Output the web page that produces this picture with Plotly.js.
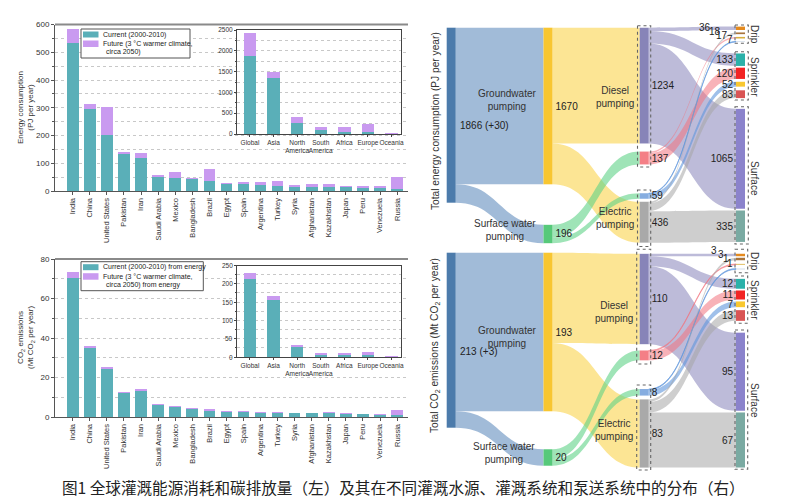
<!DOCTYPE html>
<html><head><meta charset="utf-8">
<script src="https://cdn.plot.ly/plotly-3.0.1.min.js"></script>
<style>html,body{margin:0;padding:0;background:#fff}</style>
</head><body><div id="chart" style="width:806px;height:500px"></div>
<script>
// ---------------- DATA ----------------
const countries = ['India','China','United States','Pakistan','Iran','Saudi Arabia','Mexico','Bangladesh','Brazil','Egypt','Spain','Argentina','Turkey','Syria','Afghanistan','Kazakhstan','Japan','Peru','Venezuela','Russia'];
const energyCurrent = [534,296,202,132,118,52,46,43,36,24,24,22,18,16,16,14,16,12,12,9];
const energyFutureExtra = [50,18,100,10,20,6,22,5,42,5,7,12,18,4,9,11,1,7,6,43];
const regions = ['Global','Asia','North<br>America','South<br>America','Africa','Europe','Oceania'];
const regionEnergyCurrent = [1880,1345,255,100,50,50,8];
const regionEnergyExtra = [545,140,160,80,110,190,12];
const co2Current = [70.2,34.8,24.4,12.3,13.2,6.2,5.2,4.0,2.9,2.5,2.4,2.2,2.0,2.0,1.9,2.0,1.7,1.3,1.2,0.8];
const co2FutureExtra = [3.0,1.1,0.8,0.4,0.8,0.5,0.5,0.5,1.0,0.4,0.5,0.3,0.5,0.2,0.3,0.5,0.2,0.4,0.2,2.7];
const regionCo2Current = [212,157,28,6,6,6,1];
const regionCo2Extra = [18,9,4,6,6,8,1];
const regionCo2Ticks = [0,50,100,150,200,250];
const energyLegend = ['Current (2000-2010)', 'Future (3 °C warmer climate,', 'circa 2050)'];
const co2Legend = ['Current (2000-2010) from energy', 'Future (3 °C warmer climate,', 'circa 2050) from energy'];

// Sankey: nodes and flows
const sankeyNodes = ['Total','Groundwater pumping','Surface water pumping','Diesel (groundwater)','Diesel (surface water)','Electric (surface water)','Electric (groundwater)',
  'Drip (diesel, groundwater)','Drip (electric, groundwater)','Drip (diesel, surface water)','Drip (electric, surface water)',
  'Sprinkler (diesel, groundwater)','Sprinkler (diesel, surface water)','Sprinkler (electric, surface water)','Sprinkler (electric, groundwater)',
  'Surface (diesel, groundwater)','Surface (electric, groundwater)'];
const linkSource = [0,0,1,1,2,2,3,3,3,4,4,5,5,6,6,6];
const linkTarget = [1,2,3,6,4,5,7,11,15,9,12,10,13,8,14,16];
const energyFlows = [1670,196,1234,436,137,59,36,133,1065,17,120,7,52,18,83,335];
const co2Flows    = [193,20,110,83,12,8,3,12,95,1,11,1,7,3,13,67];
const energyTotalLabel = '1866 (+30)';
const co2TotalLabel = '213 (+3)';
const energyNodeLabels = ['','1670','196','1234','137','59','436','','','','','133','120','52','83','1065','335'];
const co2NodeLabels    = ['','193','20','110','12','8','83','','','','','12','11','7','13','95','67'];
const energyDripLabels = ['36','18','17','7'];
const co2DripLabels    = ['3','3','1','1'];
const caption = '图1 全球灌溉能源消耗和碳排放量（左）及其在不同灌溉水源、灌溉系统和泵送系统中的分布（右）';

// ---------------- STYLE / LAYOUT ----------------
const W = 806, H = 500;
const px = x => x / W, py = y => 1 - y / H;
const FONT = 'Liberation Sans, Arial, sans-serif';
const TEAL = '#5aafb8', PURPLE = '#c99af0';

const nodeColors = ['#4c7bab','#f8c631','#56c97a','#8784b8','#f47f86','#86ade0','#a9a9a9',
  '#e48a1e','#a8743c','#d9b040','#c9d6e4',
  '#2bb1a9','#f22424','#f8c830','#d95555',
  '#8b83cc','#7aaaa2'];
const linkColorBySource = ['rgba(110,150,195,0.65)','rgba(251,215,90,0.65)','rgba(95,210,135,0.6)',
  'rgba(135,132,185,0.55)','rgba(242,115,125,0.55)','rgba(95,150,220,0.6)','rgba(165,165,165,0.55)'];

const colPx = [451.2, 548, 644.2, 740.5];
const nodeCol = [0,1,1,2,2,2,2,3,3,3,3,3,3,3,3,3,3];
const energyNodeYpx = [115.2,106,234,85.6,158,196,222.2,28.3,33.3,37.7,41.7,59.7,73.3,84.2,94.2,158.8,226.2];
const co2NodeYpx    = [340.2,332,457.5,299,355.4,392.3,433.5,255,259,264.3,269,283.8,295,304.3,315.5,371.7,440];

function sankeyTrace(values, labels, yPx, top, bottom) {
  const dx0 = 440, dx1 = 752;
  return {
    type: 'sankey', arrangement: 'fixed', hoverinfo: 'none',
    domain: {x: [px(dx0), px(dx1)], y: [py(bottom), py(top)]},
    node: {
      label: labels, customdata: sankeyNodes, color: nodeColors, pad: (bottom - top - 175) / 9, thickness: 9,
      line: {width: 0},
      x: nodeCol.map(c => (colPx[c] - dx0) / (dx1 - dx0)),
      y: yPx.map(v => (v - top) / (bottom - top)),
      hoverinfo: 'none'
    },
    link: {source: linkSource, target: linkTarget, value: values,
      color: linkSource.map(s => linkColorBySource[s]), hoverinfo: 'none'},
    textfont: {size: 10, color: '#222', family: FONT, shadow: 'none'}
  };
}

const traces = [
  {type:'bar', x: countries, y: energyCurrent, marker:{color:TEAL}, name:energyLegend[0], xaxis:'x', yaxis:'y', width:0.68},
  {type:'bar', x: countries, y: energyFutureExtra, marker:{color:PURPLE}, name:energyLegend[1] + ' ' + energyLegend[2], xaxis:'x', yaxis:'y', width:0.68},
  {type:'bar', x: regions, y: regionEnergyCurrent, marker:{color:TEAL}, name:energyLegend[0], xaxis:'x2', yaxis:'y2', width:0.52},
  {type:'bar', x: regions, y: regionEnergyExtra, marker:{color:PURPLE}, name:energyLegend[1] + ' ' + energyLegend[2], xaxis:'x2', yaxis:'y2', width:0.52},
  {type:'bar', x: countries, y: co2Current, marker:{color:TEAL}, name:co2Legend[0], xaxis:'x3', yaxis:'y3', width:0.68},
  {type:'bar', x: countries, y: co2FutureExtra, marker:{color:PURPLE}, name:co2Legend[1] + ' ' + co2Legend[2], xaxis:'x3', yaxis:'y3', width:0.68},
  {type:'bar', x: regions, y: regionCo2Current, marker:{color:TEAL}, name:co2Legend[0], xaxis:'x4', yaxis:'y4', width:0.52},
  {type:'bar', x: regions, y: regionCo2Extra, marker:{color:PURPLE}, name:co2Legend[1] + ' ' + co2Legend[2], xaxis:'x4', yaxis:'y4', width:0.52},
  sankeyTrace(energyFlows, energyNodeLabels, energyNodeYpx, 27.7, 242.7),
  sankeyTrace(co2Flows, co2NodeLabels, co2NodeYpx, 252.7, 467.7)
];

const GRID = '#c8c8c8';
const common = {ticklabeloverflow: 'allow', automargin: false};
function mainX(anchor, dom) {
  return Object.assign({domain: dom, anchor: anchor, range: [-1.04, 19.64], tickangle: -90, tickfont:{size:7.5, color:'#333'},
    showline: true, linecolor: '#555', ticks: 'outside', ticklen: 3, tickcolor:'#555', showgrid:false, showticklabels:true}, common);
}
function mainY(anchor, dom, range, dtick) {
  return Object.assign({domain: dom, anchor: anchor, range: range, dtick: dtick, tickfont:{size:8, color:'#333'},
    showline: true, linecolor: '#555', ticks: 'outside', ticklen: 3, tickcolor:'#555', zeroline:false,
    showticklabels: true, showgrid: true, gridcolor: GRID, griddash: 'dot',
    minor: {dtick: dtick/2, ticks:'outside', ticklen: 2, tickcolor:'#555', showgrid:true, gridcolor: GRID, griddash:'dot'}}, common);
}
function insetX(anchor, dom) {
  return Object.assign({domain: dom, anchor: anchor, range: [-0.55, 6.4], tickangle: 0, tickfont:{size:6.5, color:'#333'},
    showline: true, mirror: true, linecolor: '#444', ticks: 'outside', ticklen: 2, tickcolor:'#444', showgrid:false, showticklabels:true}, common);
}
function insetY(anchor, dom, range, dtick, labels) {
  return Object.assign({domain: dom, anchor: anchor, range: range, dtick: dtick, tickfont:{size:6.5, color:'#333'},
    showline: true, mirror: true, linecolor: '#444', ticks: 'outside', ticklen: 2, tickcolor:'#444', zeroline:false,
    showticklabels: labels, showgrid: true, gridcolor: GRID, griddash: 'dot',
    minor: {dtick: dtick/2, ticks:'outside', ticklen: 1.5, tickcolor:'#444', showgrid:true, gridcolor: GRID, griddash:'dot'}}, common);
}

function box(x0, y0, x1, y1) {
  return {type:'rect', xref:'paper', yref:'paper', x0:px(x0), x1:px(x1), y0:py(y0), y1:py(y1),
    line:{color:'#666', width:1.1, dash:'dot'}, fillcolor:'rgba(0,0,0,0)', layer:'above'};
}
function rect(x0, y0, x1, y1, fill, line) {
  return {type:'rect', xref:'paper', yref:'paper', x0:px(x0), x1:px(x1), y0:py(y0), y1:py(y1),
    line: line || {width:0}, fillcolor: fill, layer:'above'};
}
function ann(text, x, y, opts) {
  return Object.assign({text: text, x: px(x), y: py(y), xref:'paper', yref:'paper', showarrow:false,
    xanchor:'center', yanchor:'middle', font:{size:10, color:'#333', family: FONT}}, opts || {});
}
const small = {size:7, color:'#222', family:FONT};
const num = {size:10, color:'#222', family:FONT};

// manual legends (box + swatches + text)
function legendParts(top, bottom, right, labels) {
  const s = [rect(81, top, right, bottom, '#fff', {color:'#555', width:1}),
    rect(83, top + 2.5, 98.5, top + 8.5, TEAL), rect(83, top + 11.5, 98.5, top + 18, PURPLE)];
  const a = [ann(labels[0], 100.5, top + 5.6, {xanchor:'left', font:small}),
    ann(labels[1], 100.5, top + 14.8, {xanchor:'left', font:small}),
    ann(labels[2], 104, top + 23.5, {xanchor:'left', font:small})];
  return {s, a};
}
const lg1 = legendParts(29, 58, 190, energyLegend);
const lg2 = legendParts(261.7, 290.7, 203.3, co2Legend);

const shapes = [
  {type:'line', xref:'paper', yref:'paper', x0:px(55), x1:px(408), y0:py(24.5), y1:py(24.5), line:{color:'#8a8a8a', width:2}},
  {type:'line', xref:'paper', yref:'paper', x0:px(55), x1:px(408), y0:py(259), y1:py(259), line:{color:'#8a8a8a', width:2}},
  box(637.5, 25.7, 650.7, 167), box(637.5, 190, 650.7, 246.5),
  box(735, 25, 748.3, 43.3), box(735, 51.7, 748.3, 100), box(735, 106.7, 748.3, 244),
  box(636.7, 249.3, 650.7, 364), box(636.7, 385, 650.7, 470),
  box(735, 249.3, 747.7, 272.7), box(735, 276, 747.7, 323.3), box(735, 330, 747.7, 469.3)
].concat(lg1.s, lg2.s);

const annotations = [
  ann('Energy consumption<br>(PJ per year)', 26, 108, {textangle:-90, font:{size:8, color:'#333', family:FONT}}),
  ann('CO<sub>2</sub> emissions<br>(Mt CO<sub>2</sub> per year)', 26, 338, {textangle:-90, font:{size:8, color:'#333', family:FONT}}),
  ann('Total energy consumption (PJ per year)', 435, 121, {textangle:-90, font:{size:10.2, color:'#333', family:FONT}}),
  ann('Total CO<sub>2</sub> emissions (Mt CO<sub>2</sub> per year)', 435, 346, {textangle:-90, font:{size:10.2, color:'#333', family:FONT}}),
  ann(energyTotalLabel, 458, 125, {xanchor:'left', font:num}),
  ann(co2TotalLabel, 458, 351.7, {xanchor:'left', font:num}),
  ann('Groundwater<br>pumping', 506.7, 100), ann('Surface water<br>pumping', 505, 230),
  ann('Diesel<br>pumping', 615, 96.7), ann('Electric<br>pumping', 615, 218.3),
  ann('Groundwater<br>pumping', 506.7, 336.7), ann('Surface water<br>pumping', 504, 453.3),
  ann('Diesel<br>pumping', 614, 311.7), ann('Electric<br>pumping', 614, 430),
  ann('Drip', 755, 34, {textangle:90}), ann('Sprinkler', 755, 77, {textangle:90}), ann('Surface', 755, 178, {textangle:90}),
  ann('Drip', 755, 261, {textangle:90}), ann('Sprinkler', 755, 300, {textangle:90}), ann('Surface', 755, 400, {textangle:90}),
  ann(caption, 403.5, 487, {font:{size:15.6, color:'#222', family:'Noto Sans CJK SC, sans-serif'}})
].concat(lg1.a, lg2.a);
const dripEX = [713, 723, 730, 735], dripEY = [27.7, 31.7, 36, 40];
const dripCX = [719, 726, 731, 735], dripCY = [250.7, 254, 258.5, 263.3];
energyDripLabels.forEach((t, i) => annotations.push(ann(t, dripEX[i], dripEY[i], {xanchor:'right', font:num})));
co2DripLabels.forEach((t, i) => annotations.push(ann(t, dripCX[i], dripCY[i], {xanchor:'right', font:num})));
// inset (CO2) y tick labels, placed on the y4 scale
regionCo2Ticks.forEach(v => annotations.push({text: String(v), x: px(234.5), xref:'paper', xanchor:'right',
  y: v, yref:'y4', yanchor:'middle', showarrow:false, font:{size:6.5, color:'#333', family:FONT}}));

const layout = {
  width: W, height: H, margin: {l:0, r:0, t:0, b:0}, paper_bgcolor:'#fff', plot_bgcolor:'#fff',
  font: {family: FONT, color:'#333'}, barmode: 'stack', showlegend: false,
  xaxis: mainX('y', [px(55), px(408)]),
  yaxis: mainY('x', [py(191), py(24.5)], [0, 600], 100),
  xaxis2: insetX('y2', [px(237), px(401)]),
  yaxis2: insetY('x2', [py(134), py(30)], [0, 2500], 500, true),
  xaxis3: mainX('y3', [px(55), px(408)]),
  yaxis3: mainY('x3', [py(417), py(259)], [0, 80], 20),
  xaxis4: insetX('y4', [px(237), px(401)]),
  yaxis4: insetY('x4', [py(357), py(265.5)], [0, 250], 50, false),
  shapes: shapes, annotations: annotations
};

Plotly.newPlot('chart', traces, layout, {staticPlot: true, displayModeBar: false});
</script></body></html>
